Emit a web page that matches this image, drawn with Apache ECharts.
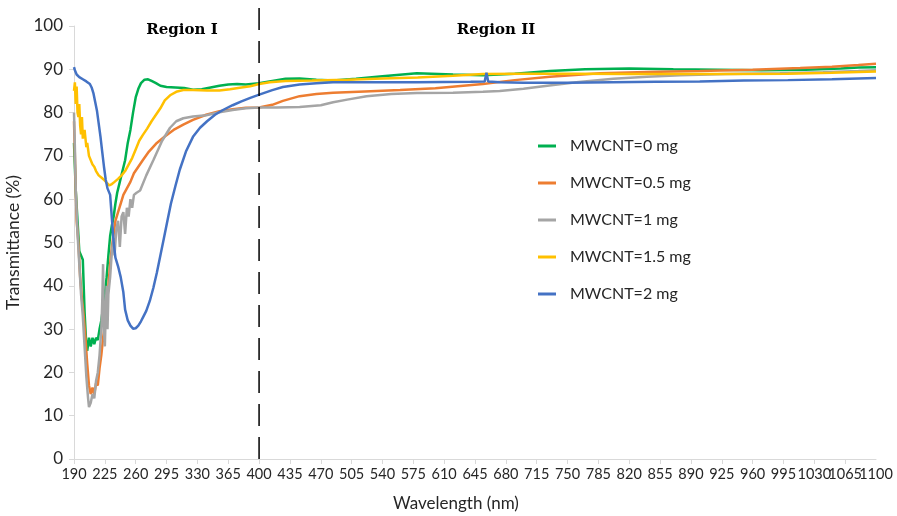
<!DOCTYPE html>
<html><head><meta charset="utf-8">
<script src="https://cdn.jsdelivr.net/npm/echarts@6/dist/echarts.min.js"></script>
<style>html,body{margin:0;padding:0;background:#fff}#c{width:897px;height:516px}</style>
</head><body><div id="c"></div>
<script>
// Wavelength (nm) and transmittance (%)
const seriesNames = ['MWCNT=0 mg','MWCNT=0.5 mg','MWCNT=1 mg','MWCNT=1.5 mg','MWCNT=2 mg'];
const xTicks = {min:190, max:1100, step:35};

const wlGreen = [190,192,194,196,198,200,202,204,205,207,209,211,213,215,217,219,221,223,225,227,229,231,233,235,237,239,242,245,248,251,254,257,260,263,266,270,274,278,283,288,295,305,315,325,335,345,355,365,375,385,400,415,430,446,465,484,510,540,579,620,654,690,730,770,820,870,920,970,1020,1060,1080,1100];
const tGreen  = [73,62,55,48,47,46,34,26,25,28,26,28,26.5,28,27.5,30,32,35,38,42,47,51.5,54,56,59,61.5,64,66.5,69,73,76,80,83.5,85.5,86.8,87.6,87.7,87.3,86.8,86.2,85.9,85.8,85.7,85.3,85.4,85.8,86.2,86.5,86.6,86.5,86.8,87.3,87.8,87.9,87.6,87.4,87.8,88.4,89.1,88.8,88.6,89.0,89.6,90.0,90.2,90.0,89.9,89.8,89.9,90.2,90.4,90.5];

const wlOrange = [190,191,192,193,195,197,199,201,203,205,207,209,211,213,215,217,219,221,223,225,227,229,231,233,235,237,240,243,246,250,254,258,263,268,275,284,293,303,314,325,340,355,370,385,400,415,427,446,465,484,520,560,600,654,690,730,787,840,900,960,1014,1050,1080,1100];
const tOrange  = [78,70,62,55,50,42,37,33,28,22,17,15,16.5,15,17.5,17,21,24,28,31,37,40,45,49,52,55,57,59,61,62.5,64,66,67.5,69,71,73,74.5,76,77.2,78.3,79.5,80.3,80.8,81.1,81.2,81.8,82.7,83.8,84.3,84.6,84.9,85.2,85.6,86.6,87.5,88.3,89.1,89.4,89.6,89.9,90.3,90.6,91.0,91.3];

const wlGray = [190,191,192,194,196,198,200,202,204,206,207,209,211,213,215,217,219,221,222,223,224,225,226,227,228,229,231,233,235,236,238,240,242,244,246,248,250,252,254,256,258,261,265,272,280,290,299,306,314,325,340,355,370,385,400,420,446,470,484,500,522,550,579,620,654,673,700,727,760,802,840,878,930,991,1040,1080,1100];
const tGray  = [80,72,62,52,45,38,33,26,19,14,12,13,15,14,18,20,24,30,36,45,30,26,34,40,30,38,42,48,51,47,53,55,49,56,57,52,58,56,60,58,61,61.5,62,65.5,69,73.5,76.5,78,78.7,79.1,79.4,80.1,80.6,81.0,81.2,81.2,81.3,81.7,82.4,83.0,83.8,84.3,84.5,84.6,84.8,85.0,85.5,86.2,87.0,87.8,88.3,88.6,88.9,89.1,89.3,89.6,89.8];

const wlYellow = [190,191,192,193,194,195,196,197,198,199,200,202,204,205,207,209,211,213,215,218,221,224,227,230,233,236,240,244,248,252,256,260,264,268,273,278,283,288,293,299,306,314,325,341,355,367,380,390,400,412,430,460,500,540,580,620,654,700,760,820,880,940,1000,1050,1080,1100];
const tYellow  = [85,87,82,86,80,79,82,77,75,79,74,76,72,73,70,70,68,67.5,66.5,65.5,65,64.5,63.8,63.2,63.5,64,64.7,65.5,66.5,68,69.5,71.5,73.5,74.8,76.3,78,79.5,81,82.8,84,84.8,85.2,85.2,85.1,85.1,85.4,85.8,86.1,86.6,87,87.3,87.4,87.6,87.9,88.1,88.5,88.9,89.0,89.0,88.9,88.9,88.9,89.0,89.2,89.4,89.5];

const wlBlue = [190,191,193,196,200,204,208,210,212,214,216,218,220,222,224,226,228,231,233,235,237,240,243,246,248,251,254,257,260,263,266,269,272,276,280,284,288,292,296,300,305,310,317,325,333,341,350,359,370,380,390,401,415,427,446,465,484,520,579,640,656,658,660,673,700,750,800,850,900,950,1000,1050,1080,1100];
const tBlue  = [90.5,89.8,88.8,88.2,87.7,87.2,86.6,85.8,84.5,82.5,80.5,77.5,74.5,71,67.5,64.5,62.5,61,55.5,50,46.5,44.5,42,38.5,34.5,32,30.8,30.1,30.2,30.8,31.8,33,34.2,36.5,39.5,43,47,51,55,59,63,66.8,71,74.4,76.5,78,79.5,80.6,81.7,82.6,83.4,84.2,85.2,85.9,86.5,86.8,87,87,87,87.1,87.2,89.2,87.2,87,86.9,86.9,87,87.1,87.2,87.4,87.5,87.7,87.9,88];

const colors = ['#00B050','#ED7D31','#A5A5A5','#FFC000','#4472C4'];
const wls = [wlGreen, wlOrange, wlGray, wlYellow, wlBlue];
const ts = [tGreen, tOrange, tGray, tYellow, tBlue];

const FONT = 'Lato';
const labelStyle = {fontFamily: FONT, fontSize: 14.5, color: '#262626', margin: 8};
const chart = echarts.init(document.getElementById('c'), null, {renderer:'canvas'});
const option = {
  animation: false,
  backgroundColor: '#fff',
  color: colors,
  grid: {left: 74, right: 21, top: 26, bottom: 57, containLabel: false, outerBoundsMode: 'none'},
  legend: {
    orient: 'vertical', left: 533, top: 133,
    icon: 'rect', itemWidth: 18, itemHeight: 3, itemGap: 21,
    textStyle: {fontFamily: FONT, fontSize: 16, color: '#262626', padding: [0,0,0,9]},
    data: seriesNames
  },
  xAxis: [{
    type: 'value', min: xTicks.min, max: xTicks.max, interval: xTicks.step,
    name: 'Wavelength (nm)', nameLocation: 'middle', nameGap: 36,
    nameTextStyle: {fontFamily: FONT, fontSize: 17, color: '#262626', padding: [0, 38, 0, 0]},
    axisLine: {lineStyle: {color: '#D9D9D9', width: 1}},
    axisTick: {show: true, length: 5, lineStyle: {color: '#D9D9D9'}},
    axisLabel: Object.assign({}, labelStyle, {showMinLabel: true, showMaxLabel: false, hideOverlap: false,
      formatter: v => String(v)}),
    splitLine: {show: false}
  }, {
    // companion axis that only prints the last tick label (so 1065 is not dropped)
    type: 'value', min: xTicks.min, max: xTicks.max, interval: xTicks.step, position: 'bottom',
    axisLine: {show: false}, axisTick: {show: false}, splitLine: {show: false},
    axisLabel: Object.assign({}, labelStyle, {showMinLabel: false, showMaxLabel: true, hideOverlap: false,
      formatter: v => (v === xTicks.max ? String(v) : '')})
  }],
  yAxis: {
    type: 'value', min: 0, max: 100, interval: 10,
    name: 'Transmittance (%)', nameLocation: 'middle', nameGap: 46,
    nameTextStyle: {fontFamily: FONT, fontSize: 17.5, color: '#262626'},
    axisLine: {show: true, lineStyle: {color: '#D9D9D9', width: 1}},
    axisTick: {show: true, length: 5, lineStyle: {color: '#D9D9D9'}},
    axisLabel: {fontFamily: FONT, fontSize: 17, color: '#262626', margin: 11},
    splitLine: {show: false}
  },
  series: seriesNames.map((n, i) => ({
    name: n, type: 'line', showSymbol: false, symbol: 'none', xAxisIndex: 0,
    lineStyle: {width: 2.5, color: colors[i]},
    itemStyle: {color: colors[i]},
    data: wls[i].map((w, k) => [w, ts[i][k]])
  }))
};
chart.setOption(option);
const xv = chart.convertToPixel({xAxisIndex: 0}, 400);
const yBottom = chart.convertToPixel({yAxisIndex: 0}, 0);
chart.setOption({
  graphic: [
    {type: 'line', shape: {x1: xv, y1: 8, x2: xv, y2: yBottom}, style: {stroke: '#000', lineWidth: 1.5, lineDash: [22, 11]}, z: 100},
    {type: 'text', x: 182, y: 30, style: {text: 'Region I', font: 'bold 15px "DejaVu Serif"', fill: '#000', textAlign: 'center', textVerticalAlign: 'middle'}},
    {type: 'text', x: 496, y: 30, style: {text: 'Region II', font: 'bold 15px "DejaVu Serif"', fill: '#000', textAlign: 'center', textVerticalAlign: 'middle'}}
  ]
});
</script></body></html>
